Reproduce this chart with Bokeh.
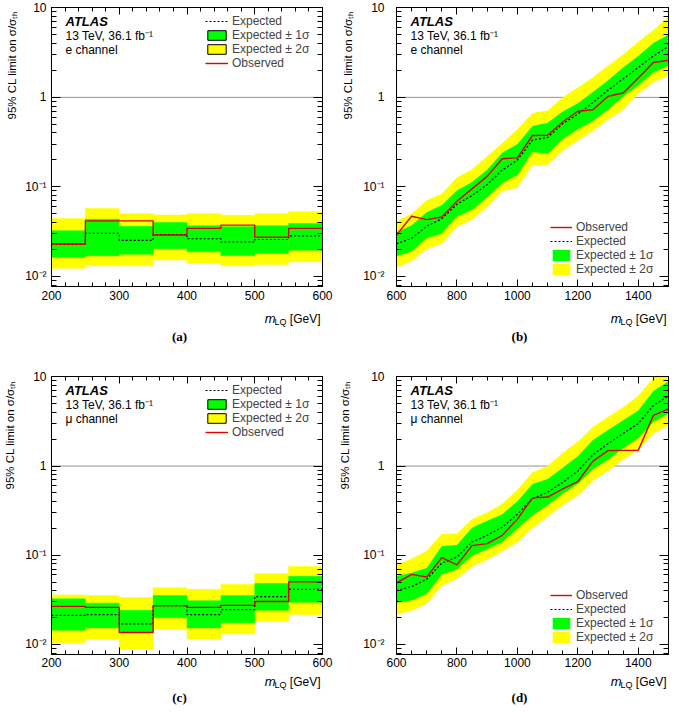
import math
from bokeh.plotting import figure
from bokeh.models import (Range1d, FixedTicker, CustomJSTickFormatter, LinearAxis, LogAxis,
                          Span, Label, Legend, LegendItem)
from bokeh.layouts import column, row
from bokeh.embed import file_html
from bokeh.resources import INLINE

# ---------------- data ----------------
# low-mass panels (a), (c): binned limits, bin edges in GeV
bin_edges_low = [200, 250, 300, 350, 400, 450, 500, 550, 600]

a_expected = [0.0230, 0.0303, 0.0252, 0.0293, 0.0263, 0.0242, 0.0258, 0.0284]
a_observed = [0.0228, 0.0417, 0.0417, 0.0290, 0.0344, 0.0374, 0.0274, 0.0344]
a_1s_hi = [0.0324, 0.0435, 0.0362, 0.0400, 0.0368, 0.0359, 0.0368, 0.0390]
a_1s_lo = [0.0163, 0.0170, 0.0177, 0.0204, 0.0188, 0.0171, 0.0180, 0.0196]
a_2s_hi = [0.0443, 0.0574, 0.0502, 0.0485, 0.0502, 0.0481, 0.0502, 0.0528]
a_2s_lo = [0.0123, 0.0131, 0.0131, 0.0152, 0.0140, 0.0131, 0.0136, 0.0146]

c_expected = [0.0211, 0.0216, 0.0170, 0.0272, 0.0216, 0.0245, 0.0344, 0.0414]
c_observed = [0.0267, 0.0260, 0.0136, 0.0272, 0.0260, 0.0274, 0.0303, 0.0502]
c_1s_hi = [0.0324, 0.0290, 0.0241, 0.0353, 0.0308, 0.0353, 0.0482, 0.0580]
c_1s_lo = [0.0144, 0.0153, 0.0136, 0.0199, 0.0153, 0.0175, 0.0241, 0.0296]
c_2s_hi = [0.0359, 0.0353, 0.0335, 0.0432, 0.0414, 0.0470, 0.0620, 0.0747]
c_2s_lo = [0.0104, 0.0115, 0.0089, 0.0148, 0.0115, 0.0131, 0.0180, 0.0216]

# high-mass panels (b), (d): limits at mass points in GeV
mass_high = [600, 650, 700, 750, 800, 850, 900, 950, 1000, 1050,
             1100, 1150, 1200, 1250, 1300, 1350, 1400, 1450, 1500]

b_observed = [0.029, 0.047, 0.043, 0.046, 0.069, 0.095, 0.131, 0.206, 0.211, 0.375,
              0.378, 0.53, 0.70, 0.727, 1.03, 1.12, 1.65, 2.45, 2.6]
b_expected = [0.0231, 0.0266, 0.0363, 0.044, 0.064, 0.080, 0.106, 0.154, 0.199, 0.333,
              0.357, 0.507, 0.652, 0.875, 1.2, 1.61, 2.16, 2.9, 3.72]
b_1s_hi = [0.031, 0.0372, 0.052, 0.0626, 0.091, 0.113, 0.155, 0.240, 0.302, 0.478,
           0.52, 0.697, 0.86, 1.15, 1.55, 2.16, 2.9, 4.05, 5.0]
b_1s_lo = [0.0168, 0.019, 0.0266, 0.0302, 0.0467, 0.0552, 0.0759, 0.11, 0.136, 0.245,
           0.235, 0.342, 0.44, 0.543, 0.727, 1.02, 1.36, 1.9, 2.25]
b_2s_hi = [0.0415, 0.0499, 0.0709, 0.0839, 0.127, 0.157, 0.22, 0.31, 0.44, 0.669,
           0.715, 1.0, 1.29, 1.68, 2.25, 3.02, 4.22, 5.66, 7.9]
b_2s_lo = [0.0125, 0.0148, 0.0202, 0.0231, 0.0357, 0.043, 0.059, 0.0897, 0.0975, 0.175,
           0.175, 0.255, 0.328, 0.422, 0.566, 0.727, 1.1, 1.48, 1.75]

d_observed = [0.049, 0.061, 0.057, 0.094, 0.078, 0.128, 0.135, 0.167, 0.254, 0.44,
              0.449, 0.554, 0.667, 1.135, 1.49, 1.50, 1.50, 3.7, 4.37]
d_expected = [0.040, 0.0446, 0.0537, 0.0817, 0.095, 0.141, 0.167, 0.206, 0.288, 0.43,
              0.509, 0.656, 0.881, 1.34, 1.78, 2.32, 2.99, 4.76, 6.13]
d_1s_hi = [0.0584, 0.0635, 0.072, 0.1265, 0.13, 0.203, 0.244, 0.288, 0.403, 0.63,
           0.714, 0.96, 1.29, 1.96, 2.53, 3.26, 4.2, 6.96, 8.96]
d_1s_lo = [0.0293, 0.0311, 0.0368, 0.0609, 0.069, 0.0984, 0.1164, 0.141, 0.198, 0.28,
           0.363, 0.489, 0.629, 0.92, 1.18, 1.59, 2.05, 3.12, 3.86]
d_2s_hi = [0.0784, 0.0912, 0.1125, 0.174, 0.174, 0.254, 0.301, 0.377, 0.542, 0.85,
           1.0, 1.4, 1.88, 2.75, 3.54, 4.56, 6.13, 9.75, 13.0]
d_2s_lo = [0.0217, 0.0238, 0.0286, 0.0454, 0.0546, 0.074, 0.0889, 0.11, 0.141, 0.2,
           0.27, 0.363, 0.468, 0.684, 0.881, 1.18, 1.52, 2.32, 2.87]

# ticks and texts
x_ticks_low = [200, 300, 400, 500, 600]
x_ticks_high = [600, 800, 1000, 1200, 1400]
y_ticks = [0.01, 0.1, 1, 10]
reference_limit = 1
channel_names = ["e channel", "e channel", "\u03bc channel", "\u03bc channel"]
panel_tags = ["(a)", "(b)", "(c)", "(d)"]
lumi_text = "13 TeV, 36.1 fb\u207b\u00b9"
y_title = "95% CL limit on \u03c3/\u03c3\u209c\u2095"
legend_labels = {"exp": "Expected", "obs": "Observed",
                 "1s": "Expected \u00b1 1\u03c3", "2s": "Expected \u00b1 2\u03c3"}

# ---------------- style ----------------
GREEN = "#00ff00"
YELLOW = "#ffff00"
RED = "#e00000"
FONT = "Liberation Sans"

y_minor = [m * 10.0 ** e for e in range(-3, 1) for m in range(2, 10)]
x_minor_low = list(range(200, 601, 20))
x_minor_high = list(range(600, 1501, 50))

y_formatter_code = """
const e = Math.round(Math.log10(tick));
if (e === 0) return "1";
if (e === 1) return "10";
const m = {"-": "\u207b", "0": "\u2070", "1": "\u00b9", "2": "\u00b2", "3": "\u00b3"};
return "10" + String(e).split("").map(c => m[c]).join("");
"""


def style_axis(ax, ticks, minor, t_major, t_minor, show_labels, standoff=4):
    ax.ticker = FixedTicker(ticks=ticks, minor_ticks=minor)
    ax.major_tick_in = t_major
    ax.major_tick_out = 0
    ax.minor_tick_in = t_minor
    ax.minor_tick_out = 0
    ax.axis_line_color = "black"
    ax.major_tick_line_color = "black"
    ax.minor_tick_line_color = "black"
    ax.axis_label = None
    ax.major_label_text_font = FONT
    ax.major_label_text_font_size = "12px"
    ax.major_label_text_color = "black"
    ax.major_label_standoff = standoff
    if not show_labels:
        ax.formatter = CustomJSTickFormatter(code="return '';")
        ax.major_label_text_font_size = "0px"
        ax.major_label_text_color = None
        ax.major_label_standoff = 0


def add_label(p, text, x, y, size="12px", style="normal", font=FONT,
              align="left", baseline="middle", angle=0.0):
    p.add_layout(Label(x=x, y=y, x_units="screen", y_units="screen", text=text,
                       text_font=font, text_font_size=size, text_font_style=style,
                       text_align=align, text_baseline=baseline, angle=angle,
                       text_color="black"))


def strip(width, height):
    s = figure(width=width, height=height, x_range=Range1d(0, 1), y_range=Range1d(0, 1),
               x_axis_location=None, y_axis_location=None, output_backend="svg",
               toolbar_location=None, min_border=0)
    s.grid.visible = False
    s.outline_line_color = None
    s.background_fill_color = "white"
    s.border_fill_color = "white"
    return s


def make_plot(idx, width, height, xr, bl, br, bb, frame_h, x_ticks, x_minor, y_std, x_std):
    p = figure(width=width, height=height, x_range=Range1d(*xr),
               y_range=Range1d(0.0077, 10.1), y_axis_type="log",
               output_backend="svg", toolbar_location=None,
               min_border_left=bl, min_border_right=br,
               min_border_top=7, min_border_bottom=bb)
    p.grid.visible = False
    p.outline_line_color = "black"
    p.outline_line_width = 1
    p.background_fill_color = "white"
    p.border_fill_color = "white"

    style_axis(p.xaxis[0], x_ticks, x_minor, 7, 4, True, x_std)
    style_axis(p.yaxis[0], y_ticks, y_minor, 9, 5, True, y_std)
    p.yaxis[0].formatter = CustomJSTickFormatter(code=y_formatter_code)
    top = LinearAxis()
    right = LogAxis()
    p.add_layout(top, "above")
    p.add_layout(right, "right")
    style_axis(top, x_ticks, x_minor, 7, 4, False)
    style_axis(right, y_ticks, y_minor, 9, 5, False)

    span = Span(location=reference_limit, dimension="width", line_color="black",
                line_alpha=0.85, line_dash="1 1", line_width=1, level="underlay")
    p.add_layout(span)

    add_label(p, "ATLAS", 14, frame_h - 14, size="13px", style="bold italic")
    add_label(p, lumi_text, 14, frame_h - 28)
    add_label(p, channel_names[idx], 14, frame_h - 42)
    return p


def y_strip(width, height, x, start_y):
    s = strip(width, height)
    add_label(s, y_title, x, start_y, size="11.5px", align="left", angle=math.pi / 2)
    return s


def x_strip(idx, width, height, frame_right, title_y, tag_x, tag_y):
    s = strip(width, height)
    add_label(s, "[GeV]", frame_right - 2, title_y, align="right")
    add_label(s, "LQ", frame_right - 36, title_y - 3, size="9px", align="right")
    add_label(s, "m", frame_right - 47, title_y, size="13px", style="italic", align="right")
    add_label(s, panel_tags[idx], tag_x, tag_y, size="13px", style="bold",
              font="Liberation Serif", align="center")
    return s


def low_panel(p, frame_h, exp, obs, s1hi, s1lo, s2hi, s2lo):
    left = bin_edges_low[:-1]
    right = bin_edges_low[1:]
    p.quad(left=left, right=right, bottom=s2lo, top=s2hi, fill_color=YELLOW,
           line_color=YELLOW, line_width=0.5)
    p.quad(left=left, right=right, bottom=s1lo, top=s1hi, fill_color=GREEN,
           line_color=GREEN, line_width=0.5)
    r_exp = p.step(x=bin_edges_low, y=exp + exp[-1:], mode="after", line_color="black",
                   line_dash="2 2", line_width=1.2)
    r_obs = p.step(x=bin_edges_low, y=obs + obs[-1:], mode="after", line_color=RED,
                   line_width=1.4)
    # hidden copies, only used for the outlined legend boxes
    k1 = p.quad(left=left, right=right, bottom=s1lo, top=s1hi, fill_color=GREEN,
                line_color="black", line_width=1, visible=False)
    k2 = p.quad(left=left, right=right, bottom=s2lo, top=s2hi, fill_color=YELLOW,
                line_color="black", line_width=1, visible=False)
    legend = Legend(items=[LegendItem(label=legend_labels["exp"], renderers=[r_exp]),
                           LegendItem(label=legend_labels["1s"], renderers=[k1]),
                           LegendItem(label=legend_labels["2s"], renderers=[k2]),
                           LegendItem(label=legend_labels["obs"], renderers=[r_obs])],
                    location=(154, frame_h - 63), orientation="vertical",
                    padding=0, margin=0, spacing=0, glyph_width=23, glyph_height=12,
                    label_height=12, label_standoff=4, label_text_font=FONT,
                    label_text_font_size="12px", border_line_color=None,
                    background_fill_alpha=0, inactive_fill_alpha=0)
    p.add_layout(legend)


def high_panel(p, exp, obs, s1hi, s1lo, s2hi, s2lo):
    r2 = p.varea(x=mass_high, y1=s2lo, y2=s2hi, fill_color=YELLOW)
    r1 = p.varea(x=mass_high, y1=s1lo, y2=s1hi, fill_color=GREEN)
    r_exp = p.line(x=mass_high, y=exp, line_color="black", line_dash="2 2", line_width=1.2)
    r_obs = p.line(x=mass_high, y=obs, line_color=RED, line_width=1.4)
    legend = Legend(items=[LegendItem(label=legend_labels["obs"], renderers=[r_obs]),
                           LegendItem(label=legend_labels["exp"], renderers=[r_exp]),
                           LegendItem(label=legend_labels["1s"], renderers=[r1]),
                           LegendItem(label=legend_labels["2s"], renderers=[r2])],
                    location=(154, 10), orientation="vertical",
                    padding=0, margin=0, spacing=0, glyph_width=22, glyph_height=14,
                    label_height=12, label_standoff=4, label_text_font=FONT,
                    label_text_font_size="12px", border_line_color=None,
                    background_fill_alpha=0)
    p.add_layout(legend)


# ---------------- layout ----------------
FH1, FH2 = 279, 278          # frame heights, row 1 / row 2
PH1 = 7 + FH1 + 20           # plot heights
PH2 = 7 + FH2 + 19
YT_START = 7 + 132           # y-title start, measured down from the plot top

# (a)
pa = make_plot(0, 312, PH1, (200, 600), 28, 12, 20, FH1, x_ticks_low, x_minor_low, 5, 4)
low_panel(pa, FH1, a_expected, a_observed, a_1s_hi, a_1s_lo, a_2s_hi, a_2s_lo)
ya = y_strip(22, PH1, 11, PH1 - YT_START)
xa = x_strip(0, 334, 63, 322, 63 - 12, 179, 63 - 30)

# (b)
pb = make_plot(1, 311, PH1, (600, 1500), 38, 1, 20, FH1, x_ticks_high, x_minor_high, 12, 4)
high_panel(pb, b_expected, b_observed, b_1s_hi, b_1s_lo, b_2s_hi, b_2s_lo)
yb = y_strip(24, PH1, 13, PH1 - YT_START)
xb = x_strip(1, 335, 63, 334, 63 - 12, 185, 63 - 30)

# (c)
pc = make_plot(2, 312, PH2, (200, 600), 28, 12, 19, FH2, x_ticks_low, x_minor_low, 5, 3)
low_panel(pc, FH2, c_expected, c_observed, c_1s_hi, c_1s_lo, c_2s_hi, c_2s_lo)
yc = y_strip(22, PH2, 9, PH2 - YT_START)
xc = x_strip(2, 334, 33, 322, 33 - 8, 179, 33 - 24)

# (d)
pd = make_plot(3, 311, PH2, (600, 1500), 38, 1, 19, FH2, x_ticks_high, x_minor_high, 12, 3)
high_panel(pd, d_expected, d_observed, d_1s_hi, d_1s_lo, d_2s_hi, d_2s_lo)
yd = y_strip(24, PH2, 10, PH2 - YT_START)
xd = x_strip(3, 335, 33, 334, 33 - 8, 185, 33 - 24)

col_a = column(row(ya, pa, spacing=0), xa, spacing=0)
col_b = column(row(yb, pb, spacing=0), xb, spacing=0)
col_c = column(row(yc, pc, spacing=0), xc, spacing=0)
col_d = column(row(yd, pd, spacing=0), xd, spacing=0)
layout = column(row(col_a, col_b, spacing=0), row(col_c, col_d, spacing=0), spacing=0)

open("out.html", "w").write(file_html(layout, INLINE))
